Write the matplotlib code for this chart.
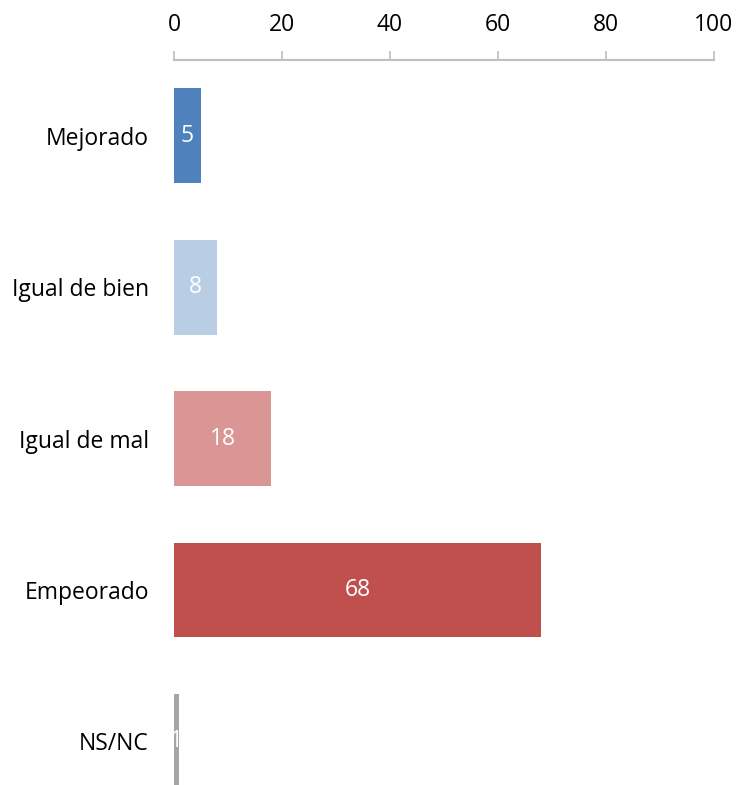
import matplotlib.pyplot as plt

categories = ['Mejorado', 'Igual de bien', 'Igual de mal', 'Empeorado', 'NS/NC']
values = [5, 8, 18, 68, 1]
colors = ['#4F81BD', '#B9CDE5', '#D99694', '#C0504D', '#A6A6A6']
xticks = [0, 20, 40, 60, 80, 100]

plt.rcParams['font.family'] = ['Open Sans', 'DejaVu Sans']

fig = plt.figure(figsize=(7.4, 7.85), dpi=100)
ax = fig.add_axes([0.2351, -0.041, 0.7297, 0.9646])

pos = list(range(len(categories)))
ax.barh(pos, values, height=0.627, color=colors)
for y, v in zip(pos, values):
    ax.text(v / 2, y, str(v), ha='center', va='center', color='white', fontsize=16.5)

ax.set_xlim(0, 100)
ax.set_ylim(4.5, -0.5)
ax.set_yticks(pos)
ax.set_yticklabels(categories, fontsize=16.5)
ax.set_xticks(xticks)
ax.xaxis.tick_top()
ax.tick_params(axis='x', labelsize=16.5, length=6.5, width=1.2, color='#BFBFBF', pad=10)
ax.tick_params(axis='y', length=0, pad=18)

for s in ['right', 'bottom', 'left']:
    ax.spines[s].set_visible(False)
ax.spines['top'].set_color('#BFBFBF')
ax.spines['top'].set_linewidth(1.5)

fig.savefig('out.png', dpi=100)
